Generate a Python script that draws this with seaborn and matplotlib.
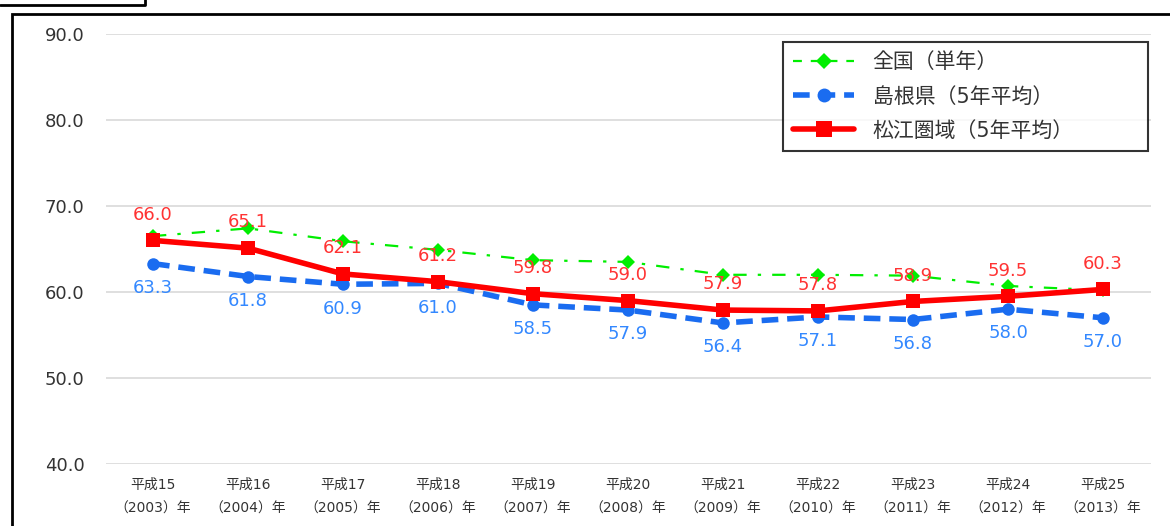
import matplotlib
matplotlib.use("Agg")
import matplotlib.pyplot as plt
import seaborn as sns
import numpy as np
from matplotlib.lines import Line2D
from matplotlib.patches import Rectangle

sns.set_style("white")
plt.rcParams["font.family"] = ["DejaVu Sans", "Noto Sans CJK JP"]

heisei = ["平成15", "平成16", "平成17", "平成18", "平成19", "平成20",
          "平成21", "平成22", "平成23", "平成24", "平成25"]
years = ["2003", "2004", "2005", "2006", "2007", "2008",
         "2009", "2010", "2011", "2012", "2013"]
national = [66.5, 67.4, 65.9, 64.9, 63.7, 63.5, 62.0, 62.0, 61.9, 60.7, 60.2]
shimane = [63.3, 61.8, 60.9, 61.0, 58.5, 57.9, 56.4, 57.1, 56.8, 58.0, 57.0]
matsue = [66.0, 65.1, 62.1, 61.2, 59.8, 59.0, 57.9, 57.8, 58.9, 59.5, 60.3]
series_names = ["全国（単年）", "島根県（5年平均）", "松江圏域（5年平均）"]

labels = [f"{h}\n（{y}）年" for h, y in zip(heisei, years)]
x = np.arange(len(labels))

fig = plt.figure(figsize=(11.7, 5.26), dpi=100)
ax = fig.add_axes([105.5 / 1170, 1 - 464 / 526, 1045 / 1170, 430 / 526])

green, blue, red = "#00ee00", "#1a6cf0", "#ff0000"
sns.lineplot(x=x, y=national, ax=ax, color=green, lw=1.6, marker="D",
             markersize=7, markeredgewidth=0, zorder=3)
ax.lines[-1].set_linestyle((0, (6, 5, 1.5, 5)))
sns.lineplot(x=x, y=shimane, ax=ax, color=blue, lw=4, marker="o",
             markersize=9, markeredgewidth=0, zorder=4)
ax.lines[-1].set_linestyle((0, (3, 1.6)))
sns.lineplot(x=x, y=matsue, ax=ax, color=red, lw=4, marker="s",
             markersize=10, markeredgewidth=0, zorder=5)

for xi, v in zip(x, matsue):
    ax.annotate(f"{v:.1f}", (xi, v), xytext=(0, 12), textcoords="offset points",
                ha="center", va="bottom", color="#ff3333", fontsize=13, zorder=6)
for xi, v in zip(x, shimane):
    ax.annotate(f"{v:.1f}", (xi, v), xytext=(0, -11), textcoords="offset points",
                ha="center", va="top", color="#3388ff", fontsize=13, zorder=6)

ax.set_xlim(-0.5, 10.5)
ax.set_ylim(40, 90)
ax.set_yticks(np.arange(40, 91, 10))
ax.set_yticklabels([f"{v:.1f}" for v in np.arange(40, 91, 10)], fontsize=13, color="#333333")
ax.set_xticks(x)
ax.set_xticklabels(labels, fontsize=10, color="#333333", linespacing=1.85)
ax.tick_params(axis="both", length=0)
ax.tick_params(axis="y", pad=15)
ax.tick_params(axis="x", pad=10)
ax.grid(axis="y", color="#d9d9d9", lw=1.2)
for s in ax.spines.values():
    s.set_visible(False)

handles = [
    Line2D([], [], color=green, lw=1.6, marker="D", markersize=8, markeredgewidth=0,
           linestyle=(0, (4, 4))),
    Line2D([], [], color=blue, lw=4, marker="o", markersize=10, markeredgewidth=0,
           linestyle=(0, (3, 1.6))),
    Line2D([], [], color=red, lw=4, marker="s", markersize=11, markeredgewidth=0),
]
lx0 = (783 - 105.5) / 1045
ly1 = (464 - 42) / 430
leg = ax.legend(handles, series_names, loc="upper left", mode="expand",
                bbox_to_anchor=(lx0, ly1 - 0.3, (1148 - 783) / 1045, 0.3),
                fontsize=15, frameon=True, fancybox=False, handlelength=2.9,
                handletextpad=0.9, borderpad=0.5, labelspacing=0.68, borderaxespad=0)
leg.get_frame().set_edgecolor("black")
leg.get_frame().set_linewidth(1.5)
for t in leg.get_texts():
    t.set_color("#333333")

# outer frame and the edge of the box above
fig.add_artist(Rectangle((12 / 1170, -0.1), 1.2, 1 - 14 / 526 + 0.1,
                         transform=fig.transFigure, fill=False, ec="black", lw=2))
fig.add_artist(Line2D([0, 145 / 1170, 145 / 1170], [1 - 5 / 526, 1 - 5 / 526, 1.01],
                      transform=fig.transFigure, color="black", lw=2))

fig.savefig("out.png", dpi=100)
